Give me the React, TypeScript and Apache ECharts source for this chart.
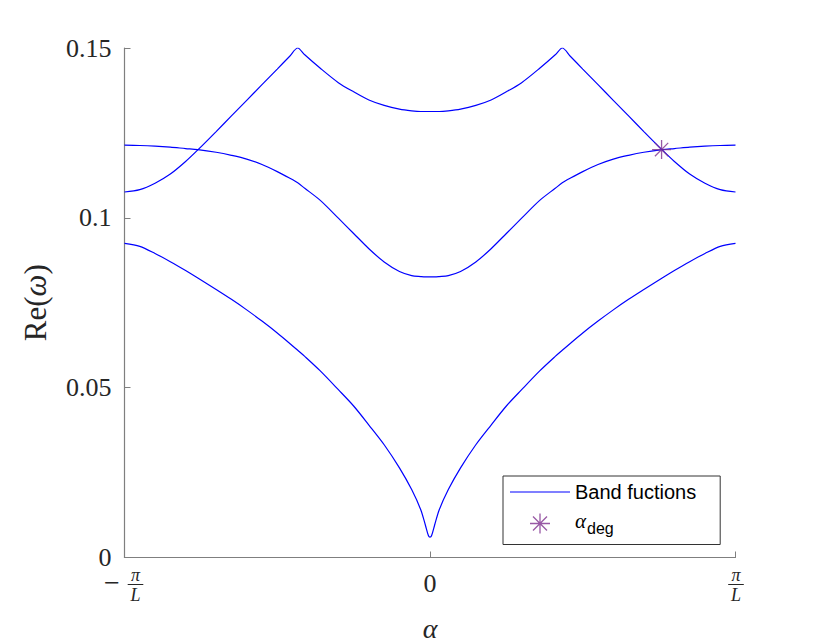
import React, { useEffect, useRef } from "react";
import * as echarts from "echarts";

// alpha in units of pi/L
const alphaGrid = [
  -1, -0.95, -0.9, -0.85, -0.8, -0.76, -0.7, -0.65, -0.6, -0.55, -0.5, -0.46, -0.433, -0.41, -0.36, -0.3, -0.25, -0.2,
  -0.15, -0.1, -0.06, -0.03, -0.015, -0.005, 0, 0.005, 0.015, 0.03, 0.06, 0.1, 0.15, 0.2, 0.25, 0.3, 0.36, 0.41, 0.433,
  0.46, 0.5, 0.55, 0.6, 0.65, 0.7, 0.76, 0.8, 0.85, 0.9, 0.95, 1,
];

const band1 = [
  0.0925, 0.0916, 0.0895, 0.0871, 0.0845, 0.0823, 0.0789, 0.076, 0.0729, 0.0696, 0.0661, 0.0631, 0.061, 0.0592, 0.055,
  0.0494, 0.0446, 0.039, 0.0332, 0.0264, 0.02, 0.014, 0.0095, 0.0064, 0.006, 0.0064, 0.0095, 0.014, 0.02, 0.0264,
  0.0332, 0.039, 0.0446, 0.0494, 0.055, 0.0592, 0.061, 0.0631, 0.0661, 0.0696, 0.0729, 0.076, 0.0789, 0.0823, 0.0845,
  0.0871, 0.0895, 0.0916, 0.0925,
];

const band2 = [
  0.1214, 0.1213, 0.1211, 0.1208, 0.1204, 0.1201, 0.1193, 0.1184, 0.1173, 0.1157, 0.1136, 0.1117, 0.1103, 0.1087, 0.1052,
  0.0999, 0.0954, 0.0909, 0.087, 0.0842, 0.083, 0.0827, 0.0826, 0.0826, 0.0826, 0.0826, 0.0826, 0.0827, 0.083, 0.0842,
  0.087, 0.0909, 0.0954, 0.0999, 0.1052, 0.1087, 0.1103, 0.1117, 0.1136, 0.1157, 0.1173, 0.1184, 0.1193, 0.1201, 0.1204,
  0.1208, 0.1211, 0.1213, 0.1214,
];

const band3 = [
  0.1076, 0.1083, 0.1102, 0.1129, 0.1166, 0.12, 0.1254, 0.13, 0.1346, 0.1392, 0.1438, 0.1475, 0.15, 0.148, 0.1441, 0.1398,
  0.1371, 0.1347, 0.1331, 0.132, 0.1315, 0.1313, 0.1313, 0.1313, 0.1313, 0.1313, 0.1313, 0.1313, 0.1315, 0.132, 0.1331,
  0.1347, 0.1371, 0.1398, 0.1441, 0.148, 0.15, 0.1475, 0.1438, 0.1392, 0.1346, 0.13, 0.1254, 0.12, 0.1166, 0.1129, 0.1102,
  0.1083, 0.1076,
];

const alphaDeg = [0.758, 0.1201];

const yTicks = [0, 0.05, 0.1, 0.15];
const xTickLabels = ["−", "π\nL", "0"];
const legendNames = ["Band fuctions", "αdeg"];

const SERIF = "'Liberation Serif', 'DejaVu Serif', serif";
const SANS = "'Liberation Sans', Arial, sans-serif";
const AXIS_GRAY = "#7f7f7f";
const TEXT = "#262626";
const BLUE = "#0000ff";
const PURPLE = "#7E2F8E";

const STAR = "path://M10,0 L10,20 M0,10 L20,10 M3,3 L17,17 M3,17 L17,3";
const LINE_ICON = "path://M0,0 L60,0 L60,1.2 L0,1.2 Z";

export default function App() {
  const ref = useRef<HTMLDivElement>(null);
  useEffect(() => {
    if (!ref.current) return;
    const chart = echarts.init(ref.current, null, { renderer: "svg" });
    const toPairs = (ys: number[]) => alphaGrid.map((a, i) => [a, ys[i]]);
    const bandSeries = [band1, band2, band3].map((b) => ({
      type: "line",
      name: legendNames[0],
      data: toPairs(b),
      symbol: "none",
      smooth: 0.3,
      lineStyle: { color: BLUE, width: 1.2 },
      itemStyle: { color: BLUE },
      z: 2,
    }));
    chart.setOption({
      animation: false,
      backgroundColor: "#ffffff",
      grid: {
        left: 124.5,
        right: 94.5,
        top: 48,
        bottom: 86.5,
        containLabel: false,
        outerBoundsMode: "none",
      },
      xAxis: {
        type: "value",
        min: -1,
        max: 1,
        interval: 1,
        name: "α",
        nameLocation: "middle",
        nameGap: 57,
        nameTextStyle: { fontFamily: SERIF, fontStyle: "italic", fontSize: 28, color: TEXT, lineHeight: 28 },
        axisLine: { show: true, onZero: false, lineStyle: { color: AXIS_GRAY, width: 1.2 } },
        axisTick: { show: true, inside: true, length: 6, lineStyle: { color: AXIS_GRAY, width: 1 } },
        axisLabel: {
          margin: 13,
          fontFamily: SERIF,
          fontSize: 26,
          color: TEXT,
          formatter: (v: number) => (v === 0 ? xTickLabels[2] : ""),
        },
        splitLine: { show: false },
      },
      yAxis: {
        type: "value",
        min: yTicks[0],
        max: yTicks[yTicks.length - 1],
        interval: 0.05,
        name: "Re({w|ω})",
        nameLocation: "middle",
        nameGap: 74,
        nameRotate: 90,
        nameTextStyle: {
          fontFamily: SERIF,
          fontSize: 31,
          color: TEXT,
          rich: { w: { fontFamily: SERIF, fontStyle: "italic", fontSize: 31, color: TEXT } },
        },
        axisLine: { show: true, onZero: false, lineStyle: { color: AXIS_GRAY, width: 1.2 } },
        axisTick: { show: true, inside: true, length: 6, lineStyle: { color: AXIS_GRAY, width: 1 } },
        axisLabel: {
          margin: 13,
          fontFamily: SERIF,
          fontSize: 26,
          color: TEXT,
          formatter: (v: number) => {
            const t = yTicks.find((k) => Math.abs(k - v) < 1e-9);
            return t === undefined ? "" : String(t);
          },
        },
        splitLine: { show: false },
      },
      legend: {
        orient: "vertical",
        left: 503,
        top: 476,
        padding: [6, 24, 8, 7],
        itemWidth: 60,
        itemHeight: 20,
        itemGap: 8,
        backgroundColor: "#ffffff",
        borderColor: "#333333",
        borderWidth: 1,
        borderRadius: 0,
        selectedMode: false,
        data: [
          { name: legendNames[0], icon: LINE_ICON, itemStyle: { color: BLUE, borderWidth: 0 } },
          {
            name: legendNames[1],
            itemStyle: { color: "transparent", borderColor: PURPLE, borderWidth: 1.3 },
          },
        ],
        textStyle: {
          fontFamily: SANS,
          fontSize: 20,
          color: "#000000",
          rich: {
            a: { fontFamily: SERIF, fontStyle: "italic", fontSize: 21, color: "#000", padding: [0, 1, 6, 0] },
            s: { fontFamily: SANS, fontSize: 16, color: "#000", padding: [10, 0, 0, 0] },
          },
        },
        formatter: (name: string) => (name === legendNames[1] ? "{a|α}{s|deg}" : name),
      },
      series: [
        ...bandSeries,
        {
          type: "scatter",
          name: legendNames[1],
          data: [alphaDeg],
          symbol: STAR,
          symbolSize: 19,
          itemStyle: { color: "transparent", borderColor: PURPLE, borderWidth: 1.3 },
          z: 5,
        },
      ],
    } as any);

    const pL = chart.convertToPixel({ xAxisIndex: 0, yAxisIndex: 0 }, [-1, 0]) as number[];
    const pR = chart.convertToPixel({ xAxisIndex: 0, yAxisIndex: 0 }, [1, 0]) as number[];
    const ay = pL[1];
    const frac = (cx: number) => [
      {
        type: "text",
        x: cx,
        y: ay + 27.5,
        style: {
          text: xTickLabels[1],
          font: `italic 18px ${SERIF}`,
          lineHeight: 20.5,
          fill: TEXT,
          align: "center",
          verticalAlign: "middle",
        },
      },
      {
        type: "line",
        shape: { x1: cx - 7.8, y1: ay + 27, x2: cx + 7.8, y2: ay + 27 },
        style: { stroke: TEXT, lineWidth: 1 },
      },
    ];
    chart.setOption({
      graphic: [
        {
          type: "text",
          x: pL[0] - 12.5,
          y: ay + 25,
          style: {
            text: xTickLabels[0],
            font: `28px ${SERIF}`,
            lineHeight: 10,
            fill: TEXT,
            align: "center",
            verticalAlign: "middle",
          },
        },
        ...frac(pL[0] + 11),
        ...frac(pR[0] + 0.5),
      ],
    } as any);

    return () => chart.dispose();
  }, []);
  return (
    <div
      ref={ref}
      style={{ position: "fixed", left: 0, top: 0, width: 830, height: 644, background: "#fff" }}
    />
  );
}
